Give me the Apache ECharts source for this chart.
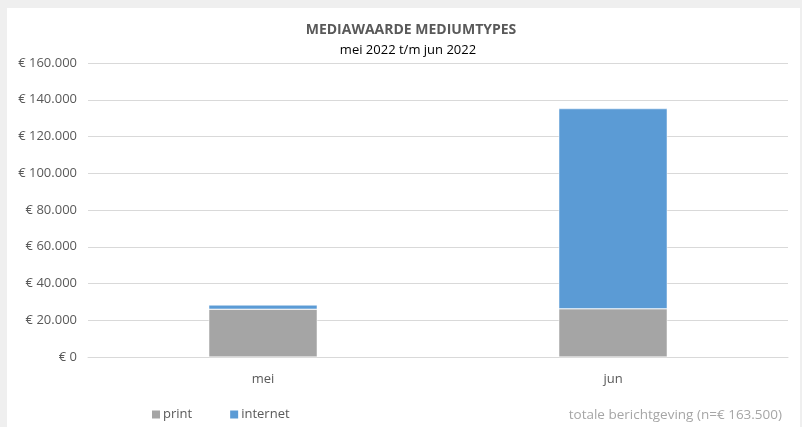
<!DOCTYPE html>
<html><head><meta charset="utf-8">
<script src="https://cdn.jsdelivr.net/npm/echarts@6/dist/echarts.min.js"></script>
<style>html,body{margin:0;padding:0;background:#efefef}#c{width:802px;height:427px}</style>
</head><body><div id="c"></div>
<script>
const categories = ['mei', 'jun'];
const printValues = [26000, 26200];
const internetValues = [2300, 109000];
const yTicks = [0, 20000, 40000, 60000, 80000, 100000, 120000, 140000, 160000];
const titleText = 'MEDIAWAARDE MEDIUMTYPES';
const subtitleText = 'mei 2022 t/m jun 2022';
const footerText = 'totale berichtgeving (n=€ 163.500)';

const font = 'Open Sans, Liberation Sans, Arial, sans-serif';
function fmt(v){ return '€ ' + String(v).replace(/\B(?=(\d{3})+(?!\d))/g, '.'); }

const chart = echarts.init(document.getElementById('c'), null, {renderer:'canvas'});
chart.setOption({
  backgroundColor: '#efefef',
  animation: false,
  graphic: [
    {type:'rect', z:-10, shape:{x:7,y:8,width:793,height:419}, style:{fill:'#ffffff'}},
    {type:'text', right:20, top:408, style:{text:footerText, fill:'#a6a6a6', font:'13.5px '+font}}
  ],
  title: [
    {text:titleText, left:406, top:18, textAlign:'center',
     textStyle:{fontSize:14, fontWeight:'bold', color:'#595959', fontFamily:font}},
    {text:subtitleText, left:403, top:39, textAlign:'center',
     textStyle:{fontSize:13, fontWeight:'normal', color:'#000000', fontFamily:font}}
  ],
  legend: {
    left:145, top:403, itemWidth:10, itemHeight:10, itemGap:36, icon:'rect',
    textStyle:{fontSize:13, color:'#595959', fontFamily:font, padding:[0,0,0,-3]},
    data:['print','internet']
  },
  grid: {left:88, right:14, top:63, bottom:70, containLabel:false},
  xAxis: {
    type:'category', data:categories,
    axisLine:{show:true, lineStyle:{color:'#d9d9d9'}},
    axisTick:{show:false},
    axisLabel:{color:'#595959', fontSize:13, fontFamily:font, margin:16}
  },
  yAxis: {
    type:'value', min:yTicks[0], max:yTicks[yTicks.length-1], interval:20000,
    axisLine:{show:false}, axisTick:{show:false},
    splitLine:{lineStyle:{color:'#d9d9d9'}},
    axisLabel:{color:'#595959', fontSize:13, fontFamily:font, margin:11, formatter:fmt}
  },
  series: [
    {name:'print', type:'bar', stack:'a', data:printValues, barWidth:'31%',
     itemStyle:{color:'#a5a5a5', borderColor:'#ffffff', borderWidth:0.5}},
    {name:'internet', type:'bar', stack:'a', data:internetValues, barWidth:'31%',
     itemStyle:{color:'#5b9bd5', borderColor:'#ffffff', borderWidth:0.5}}
  ]
});
</script></body></html>
